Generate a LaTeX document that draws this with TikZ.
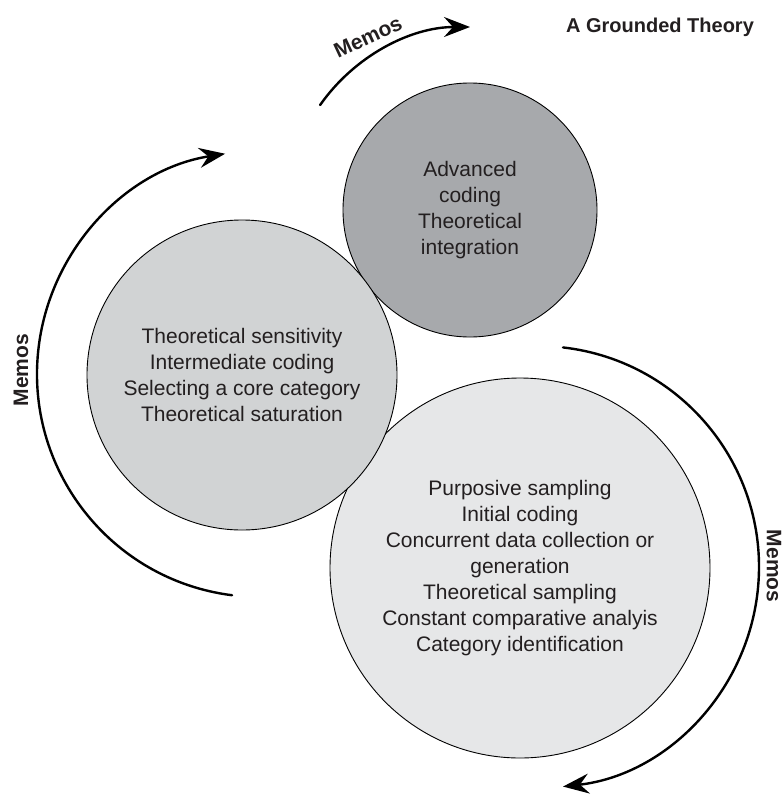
\documentclass[tikz,border=0pt]{standalone}
\usepackage{fontspec}
\setmainfont{Liberation Sans}
\usetikzlibrary{arrows.meta}
\definecolor{inkgray}{HTML}{231F20}
\definecolor{advfill}{HTML}{A7A9AC}
\definecolor{midfill}{HTML}{D1D3D4}
\definecolor{initfill}{HTML}{E6E7E8}
\begin{document}
\begin{tikzpicture}[x=1pt,y=-1pt,
  phase/.style={circle, draw=black, line width=0.9pt, inner sep=0pt,
    align=center, text=inkgray, font=\fontsize{21}{26}\selectfont},
  memoarrow/.style={line width=2.4pt, line cap=round,
    -{Stealth[length=26pt,width=20pt,inset=9pt]}},
  memolabel/.style={font=\fontsize{21}{25}\selectfont\bfseries, text=inkgray},
]
\useasboundingbox (0,0) rectangle (783,795);

% the three phases, earliest at the bottom
\node[phase, fill=initfill, minimum size=380pt] (init) at (520,568)
  {Purposive sampling\\Initial coding\\Concurrent data collection or\\generation\\Theoretical sampling\\Constant comparative analyis\\Category identification};
\node[phase, fill=advfill, minimum size=254pt] (adv) at (470,210)
  {Advanced\\coding\\Theoretical\\integration};
\node[phase, fill=midfill, minimum size=310pt] (mid) at (242,375)
  {Theoretical sensitivity\\Intermediate coding\\Selecting a core category\\Theoretical saturation};

% centres of the memo arcs
\coordinate (lc) at (260,374);
\coordinate (rc) at (538,567);

% memo arrows
\draw[memoarrow] (lc) ++(97.2:223) arc[start angle=97.2, end angle=261, radius=223];
\draw[memoarrow] (rc) ++(-83.5:221) arc[start angle=-83.5, end angle=83.5, radius=221];
\draw[memoarrow] (adv.center) ++(215:183) arc[start angle=215, end angle=270, radius=183];

% labels
\node[memolabel, rotate=90] (memoL) at (21,370) {Memos};
\node[memolabel, rotate=-90] (memoR) at (774,566) {Memos};
\node[memolabel, rotate=25] (memoT) at (368,37) {Memos};
\node[font=\fontsize{20}{24}\selectfont\bfseries, text=inkgray] (title) at (660,27) {A Grounded Theory};
\end{tikzpicture}
\end{document}
